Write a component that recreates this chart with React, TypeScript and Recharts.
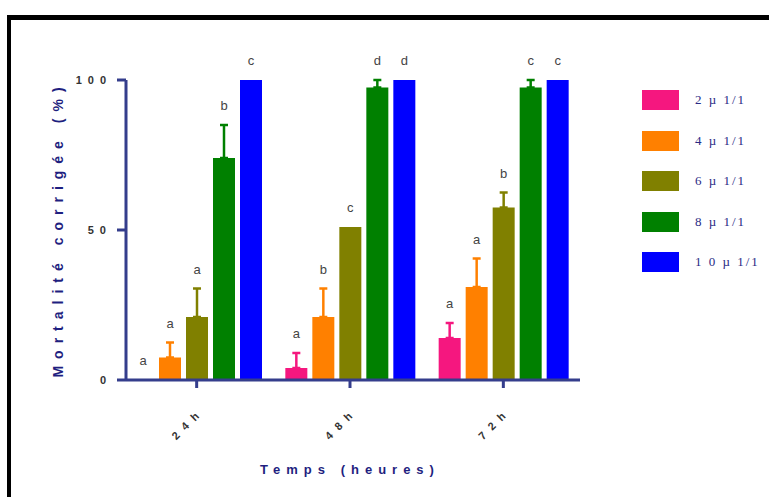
import React from 'react';
import { BarChart, Bar, XAxis, YAxis, ErrorBar, Legend } from 'recharts';

// time points (x categories)
const periods = ['2 4 h', '4 8 h', '7 2 h'];

// doses (series)
const doses = ['2 µ 1/1', '4 µ 1/1', '6 µ 1/1', '8 µ 1/1', '1 0 µ 1/1'];
const colors = ['#f5177f', '#ff8000', '#808000', '#008000', '#0000ff'];

// corrected mortality (%) per dose, one value per period
const mort2 = [0, 4, 14];
const mort4 = [7.5, 21, 31];
const mort6 = [21, 51, 57.5];
const mort8 = [74, 97.5, 97.5];
const mort10 = [100, 100, 100];

// standard errors (upper only)
const err2 = [0, 5, 5];
const err4 = [5, 9.5, 9.5];
const err6 = [9.5, 0, 5];
const err8 = [11, 2.5, 2.5];
const err10 = [0, 0, 0];

// significance letters
const let2 = ['a', 'a', 'a'];
const let4 = ['a', 'b', 'a'];
const let6 = ['a', 'c', 'b'];
const let8 = ['b', 'd', 'c'];
const let10 = ['c', 'd', 'c'];

const yTicks = [0, 50, 100];

const values = [mort2, mort4, mort6, mort8, mort10];
const errors = [err2, err4, err6, err8, err10];
const letters = [let2, let4, let6, let8, let10];

const rows = periods.map((p, j) => {
  const row: Record<string, any> = { period: p };
  values.forEach((v, i) => {
    row[`s${i}`] = v[j];
    row[`e${i}`] = errors[i][j] > 0 ? [0, errors[i][j]] : null;
    row[`r${i}`] = errors[i][j];
    row[`l${i}`] = letters[i][j];
  });
  return row;
});

const NAVY = '#343d8c';
const TITLE = '#1f1f80';
const SANS = '"Liberation Sans", Arial, sans-serif';

// bar rect + significance letter above the error bar
const barShape = (i: number) => (props: any) => {
  const { x, y, width, height, payload, fill } = props;
  const v = payload[`s${i}`];
  const e = payload[`r${i}`];
  const h = Math.abs(height || 0);
  const ppu = v > 0 ? h / v : 0;
  const top = y - e * ppu;
  return (
    <g>
      {h > 0 && <rect x={x} y={y} width={width} height={h} fill={fill} />}
      <text x={x + width / 2} y={top - 15} textAnchor="middle" fontFamily={SANS} fontSize={13} fill="#444">
        {payload[`l${i}`]}
      </text>
    </g>
  );
};

const XTick = (props: any) => {
  const { x, y, payload } = props;
  const cx = x - 8;
  const cy = y + 38;
  return (
    <text
      x={cx}
      y={cy}
      textAnchor="middle"
      transform={`rotate(-45 ${cx} ${cy})`}
      fontFamily={SANS}
      fontWeight="bold"
      fontSize={11}
      letterSpacing={2}
      fill="#333"
    >
      {payload.value}
    </text>
  );
};

const YTick = (props: any) => {
  const { x, y, payload } = props;
  return (
    <text x={x + 3} y={y + 4} textAnchor="end" fontFamily={SANS} fontWeight="bold" fontSize={11} letterSpacing={6} fill="#333">
      {String(payload.value)}
    </text>
  );
};

const LegendBox = () => (
  <div>
    {doses.map((d, i) => (
      <div key={d} style={{ display: 'flex', alignItems: 'center', height: 40.5 }}>
        <div style={{ width: 37, height: 20, background: colors[i] }} />
        <span
          style={{
            marginLeft: 16,
            fontFamily: '"Liberation Serif", "Times New Roman", serif',
            fontSize: 13,
            letterSpacing: 2,
            color: '#2a2a85',
          }}
        >
          {d}
        </span>
      </div>
    ))}
  </div>
);

export default function App() {
  return (
    <div style={{ position: 'absolute', left: 0, top: 0, width: 769, height: 497, overflow: 'hidden', background: '#fff' }}>
      <div
        style={{
          position: 'absolute',
          left: 7,
          top: 15,
          width: 900,
          height: 700,
          borderTop: '5px solid #000',
          borderLeft: '4px solid #000',
        }}
      />
      <div style={{ position: 'absolute', left: 0, top: 0 }}>
        <BarChart
          width={769}
          height={497}
          data={rows}
          margin={{ top: 80, right: 189, bottom: 87, left: 66 }}
          barSize={22}
          barGap={5}
        >
          <XAxis
            dataKey="period"
            padding={{ left: -6, right: 0 }}
            height={30}
            axisLine={{ stroke: NAVY, strokeWidth: 3 }}
            tickLine={{ stroke: NAVY, strokeWidth: 3 }}
            tickSize={8}
            tick={<XTick />}
            interval={0}
          />
          <YAxis
            width={60}
            domain={[0, 100]}
            ticks={yTicks}
            axisLine={{ stroke: NAVY, strokeWidth: 3 }}
            tickLine={{ stroke: NAVY, strokeWidth: 3 }}
            tickSize={9}
            tickMargin={8}
            tick={<YTick />}
          />
          <Legend
            layout="vertical"
            align="center"
            verticalAlign="middle"
            wrapperStyle={{ left: 642, top: 80, width: 127, height: 205 }}
            content={<LegendBox />}
          />
          {doses.map((d, i) => (
            <Bar key={d} dataKey={`s${i}`} name={d} fill={colors[i]} isAnimationActive={false} shape={barShape(i)}>
              <ErrorBar dataKey={`e${i}`} width={4} stroke={colors[i]} strokeWidth={2.5} direction="y" />
            </Bar>
          ))}
        </BarChart>
      </div>
      <div
        style={{
          position: 'absolute',
          left: 350,
          top: 462,
          transform: 'translateX(-50%)',
          whiteSpace: 'nowrap',
          fontFamily: SANS,
          fontWeight: 'bold',
          fontSize: 13,
          letterSpacing: 6,
          color: TITLE,
        }}
      >
        Temps (heures)
      </div>
      <div
        style={{
          position: 'absolute',
          left: 58,
          top: 229,
          transform: 'translate(-50%, -50%) rotate(-90deg)',
          whiteSpace: 'nowrap',
          fontFamily: SANS,
          fontWeight: 'bold',
          fontSize: 14,
          letterSpacing: 7,
          color: TITLE,
        }}
      >
        Mortalité corrigée (%)
      </div>
    </div>
  );
}
